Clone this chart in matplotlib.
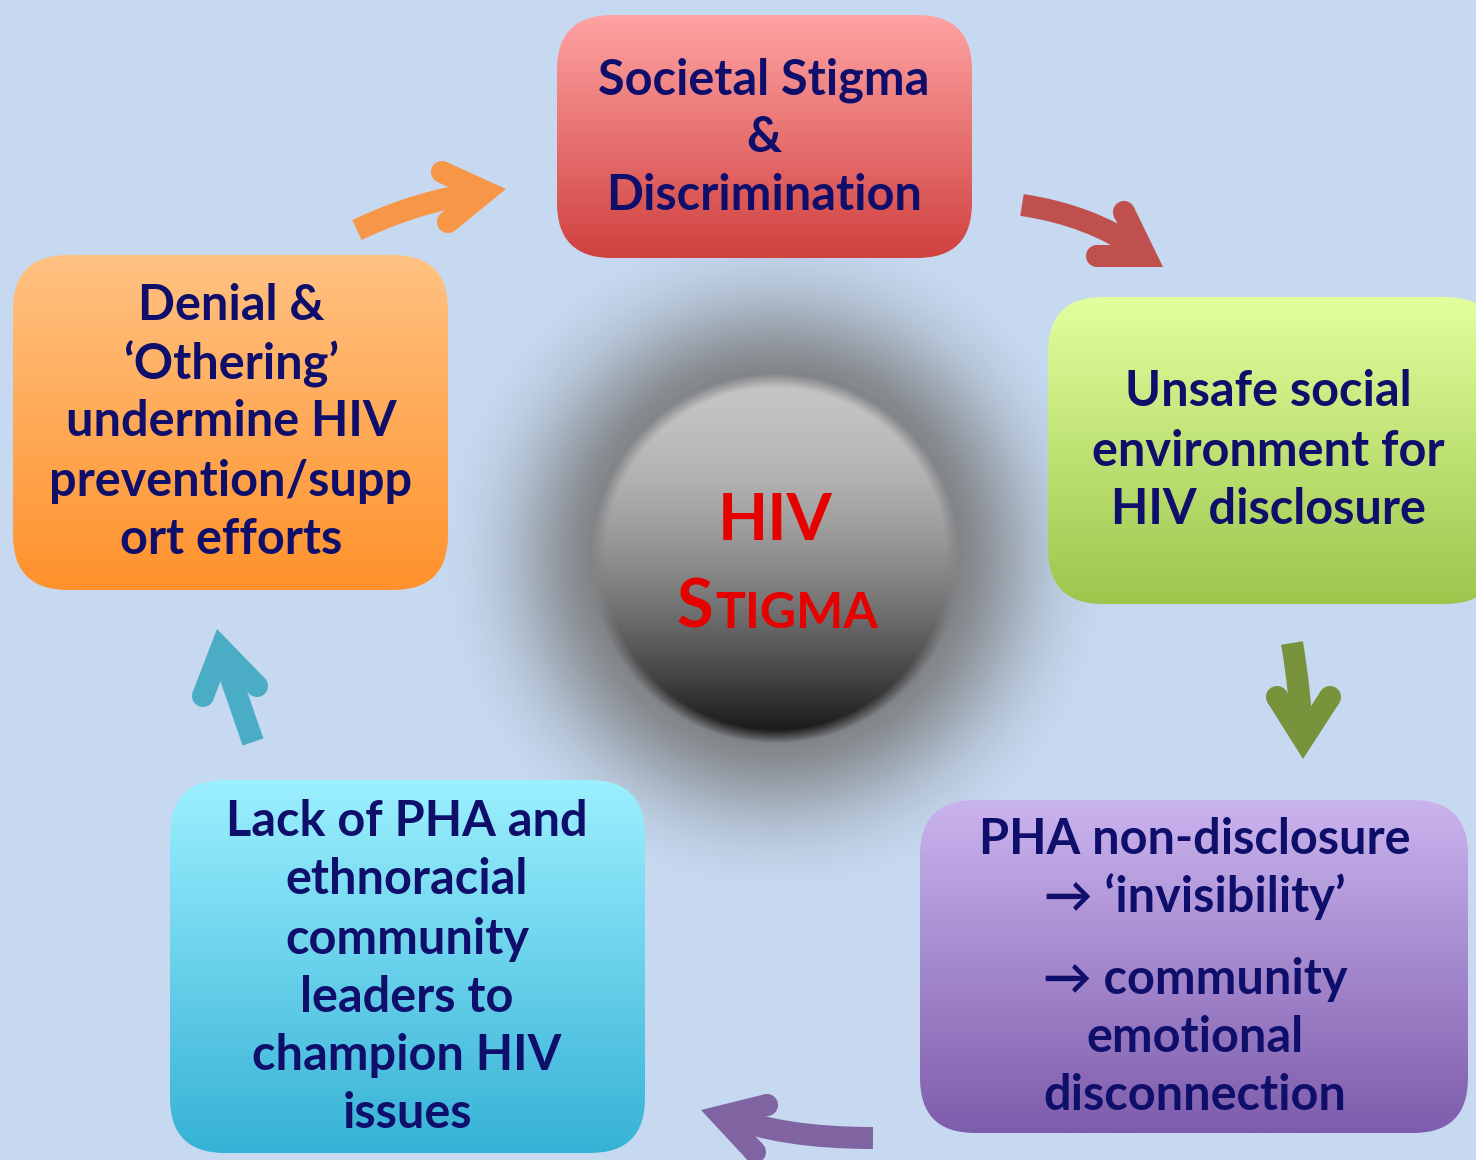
import numpy as np
import matplotlib.pyplot as plt
from matplotlib.patches import FancyBboxPatch, PathPatch, Polygon, Circle
from matplotlib.path import Path
from matplotlib.colors import to_rgb

plt.rcParams['font.family'] = ['Lato', 'DejaVu Sans']

# Boxes of the cycle (clockwise from the top)
box_text = [
    ['Societal Stigma', '&', 'Discrimination'],
    ['Unsafe social', 'environment for', 'HIV disclosure'],
    ['PHA non-disclosure', '\u2192 \u2018invisibility\u2019', '\u2192 community', 'emotional', 'disconnection'],
    ['Lack of PHA and', 'ethnoracial', 'community', 'leaders to', 'champion HIV', 'issues'],
    ['Denial &', '\u2018Othering\u2019', 'undermine HIV', 'prevention/supp', 'ort efforts'],
]
box_rect = [(557, 15, 972, 258), (1048, 297, 1500, 604), (920, 800, 1468, 1133),
            (170, 780, 645, 1153), (13, 255, 448, 590)]
box_top = ['#FFA3A3', '#E2FF9E', '#CAB4EE', '#9CF0FF', '#FFC282']
box_bot = ['#D0413F', '#9CC64C', '#7E5CAC', '#36B2D6', '#FF922C']
text_cx = [764, 1268, 1195, 407, 231]
text_y = [
    [80, 138, 195],
    [392, 451, 509],
    [839, 897, 979, 1037, 1095],
    [822, 880, 939, 997, 1055, 1114],
    [305, 364, 422, 482, 540],
]

# Curved arrows between boxes: shaft start, control, end, head tip, arm-end centres
arrow_col = ['#F79646', '#C0504D', '#77933C', '#8064A2', '#4BACC6']
arrow_shaft = [
    [(357, 230), (420, 200), (480, 193)],
    [(1022, 205), (1090, 215), (1140, 250)],
    [(1292, 643), (1300, 690), (1302, 735)],
    [(873, 1138), (780, 1138), (725, 1115)],
    [(253, 742), (235, 690), (223, 655)],
]
arrow_tip = [(506, 189), (1163, 267), (1303, 759), (701, 1110), (217, 629)]
arrow_arms = [
    [(442, 172), (448, 222)],
    [(1124, 212), (1097, 256)],
    [(1277, 697), (1330, 697)],
    [(767, 1105), (755, 1152)],
    [(203, 696), (257, 686)],
]

W, H = 1476, 1160
bg = '#C6D9F0'
navy = '#0F0F6B'

fig = plt.figure(figsize=(W / 100, H / 100), dpi=100)
ax = fig.add_axes([0, 0, 1, 1])
ax.set_xlim(0, W)
ax.set_ylim(H, 0)
ax.set_aspect('equal')
ax.axis('off')
fig.patch.set_facecolor(bg)

# Shadow halo and grey sphere in the middle
cx, cy, rs = 775, 558, 178
x0, x1, y0, y1 = cx - 340, cx + 340, cy - 340, cy + 340
gx, gy = np.meshgrid(np.arange(x0, x1), np.arange(y0, y1))
r = np.hypot(gx - cx, gy - cy)
edge = np.exp(-((335 - 165) / 95) ** 2)
fall = np.exp(-np.clip((r - 165) / 95, 0, None) ** 2)
fall = np.clip((fall - edge) / (1 - edge), 0, 1)
halo = np.zeros(gx.shape + (4,))
halo[..., :3] = 0.47
halo[..., 3] = 0.9 * fall
ax.imshow(halo, extent=(x0, x1, y1, y0), origin='upper', zorder=1, interpolation='bilinear')

t = np.clip((gy - (cy - rs)) / (2 * rs), 0, 1)
val = 0.77 - 0.69 * t ** 1.7
sph = np.zeros(gx.shape + (4,))
sph[..., 0] = val
sph[..., 1] = val
sph[..., 2] = val
sph[..., 3] = np.clip((rs - r) / 14 + 0.5, 0, 1)
ax.imshow(sph, extent=(x0, x1, y1, y0), origin='upper', zorder=2, interpolation='bilinear')

ax.text(775, 540, 'HIV', color='#E60000', fontsize=47, fontweight='bold',
        ha='center', va='baseline', zorder=5)
ax.text(713, 628, 'S', color='#E60000', fontsize=48, fontweight='bold',
        ha='right', va='baseline', zorder=5)
ax.text(715, 628, 'TIGMA', color='#E60000', fontsize=36, fontweight='bold',
        ha='left', va='baseline', zorder=5)

# Gradient boxes
for i, (bx0, by0, bx1, by1) in enumerate(box_rect):
    c0 = np.array(to_rgb(box_top[i]))
    c1 = np.array(to_rgb(box_bot[i]))
    tt = np.linspace(0, 1, 256)[:, None]
    grad = (c0 * (1 - tt) + c1 * tt)[:, None, :]
    im = ax.imshow(grad, extent=(bx0, bx1, by1, by0), origin='upper',
                   aspect='auto', zorder=3, interpolation='bilinear')
    patch = FancyBboxPatch((bx0, by0), bx1 - bx0, by1 - by0,
                           boxstyle='round,pad=0,rounding_size=55',
                           facecolor='none', edgecolor='none', zorder=3)
    ax.add_patch(patch)
    im.set_clip_path(patch)
    for line, yy in zip(box_text[i], text_y[i]):
        ax.text(text_cx[i], yy, line, color=navy, fontsize=35, fontweight='bold',
                ha='center', va='center', zorder=6)


def rot(v, a):
    c, s = np.cos(a), np.sin(a)
    return np.array([c * v[0] - s * v[1], s * v[0] + c * v[1]])


# Arrows: curved shaft + chevron head (polygon with round arm ends)
hw = 11
lw = 2 * hw * 0.72
for i, col in enumerate(arrow_col):
    p0, pc, p1 = arrow_shaft[i]
    shaft = Path([p0, pc, p1], [Path.MOVETO, Path.CURVE3, Path.CURVE3])
    ax.add_patch(PathPatch(shaft, facecolor='none', edgecolor=col, lw=lw,
                           capstyle='butt', zorder=4))
    T = np.array(arrow_tip[i], float)
    A = [np.array(a, float) for a in arrow_arms[i]]
    d = [(a - T) / np.linalg.norm(a - T) for a in A]
    us, outers = [], []
    for k in range(2):
        L = np.linalg.norm(A[k] - T)
        phi = np.arcsin(hw / L)
        cands = [rot(d[k], phi), rot(d[k], -phi)]
        u = min(cands, key=lambda c: np.dot(c, d[1 - k]))
        us.append(u)
        outers.append(T + u * np.sqrt(L ** 2 - hw ** 2))
        ax.add_patch(Circle(A[k], hw, facecolor=col, edgecolor='none', zorder=4))
    bis = (us[0] + us[1]) / np.linalg.norm(us[0] + us[1])
    half = np.arccos(np.clip(np.dot(us[0], us[1]), -1, 1)) / 2
    notch = T + bis * 2 * hw / np.sin(half)
    inners = [A[k] + (A[k] - outers[k]) for k in range(2)]
    poly = [T, outers[0], inners[0], notch, inners[1], outers[1]]
    ax.add_patch(Polygon(poly, closed=True, facecolor=col, edgecolor='none', zorder=4))

ax.set_xlim(0, W)
ax.set_ylim(H, 0)
fig.savefig('out.png', dpi=100, facecolor=bg)
